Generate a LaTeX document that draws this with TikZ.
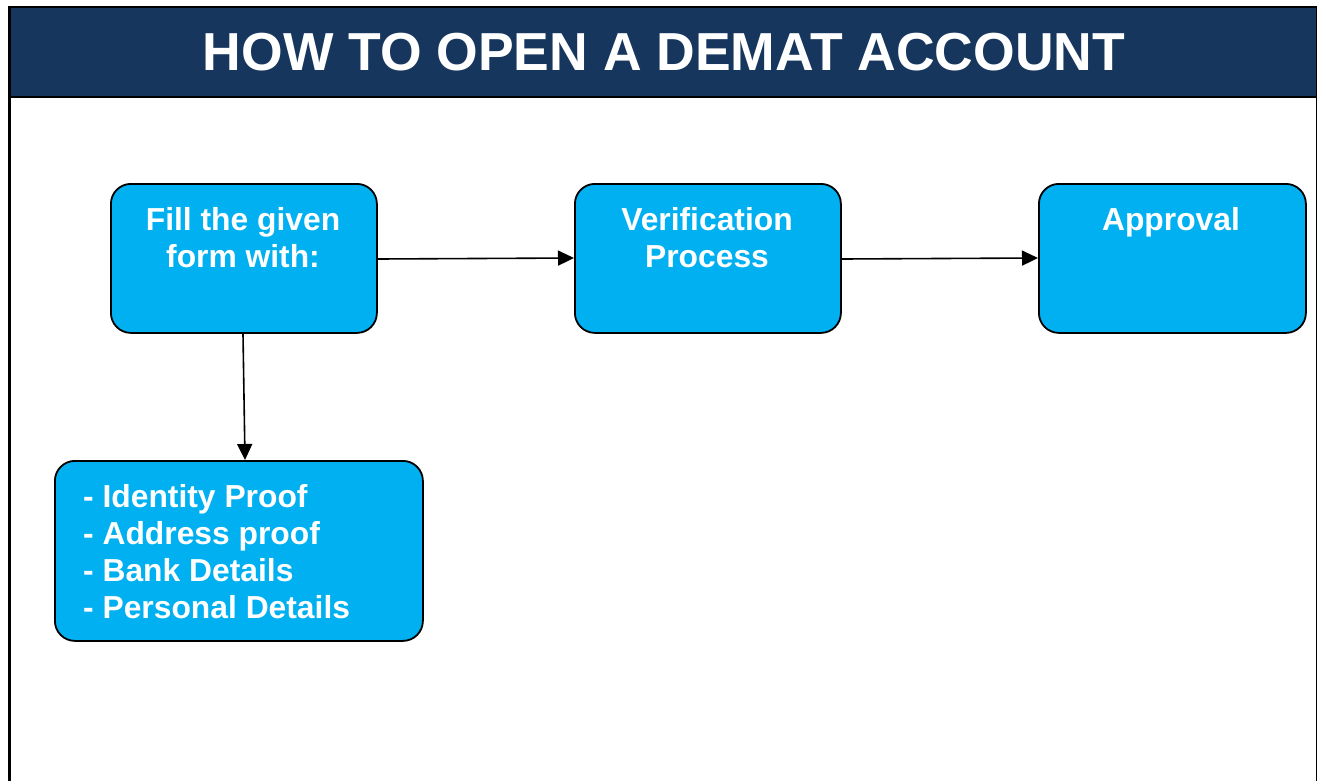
\documentclass[tikz,border=0pt]{standalone}
\usepackage{fontspec}
\setmainfont{Liberation Sans}
\usetikzlibrary{arrows.meta}
\definecolor{navy}{HTML}{17365D}
\definecolor{cyanbox}{HTML}{00B0F0}
\tikzset{
  stepbox/.style={draw=black, line width=1.8pt, fill=cyanbox, rounded corners=20pt, inner sep=0pt, anchor=north west},
  boxtext/.style={text=white, font=\bfseries\fontsize{31.8}{37}\selectfont, inner sep=0pt},
  conn/.style={draw=black, line width=1.6pt, -{Triangle[length=16pt,width=15pt]}}
}
\begin{document}
\begin{tikzpicture}[x=1pt,y=-1pt]
\useasboundingbox (0,0) rectangle (1318,780);
\fill[white] (0,0) rectangle (1318,780);
% header band
\fill[navy] (8,7) rectangle (1317,97);
\draw[line width=2pt] (8,97) -- (1317,97);
\draw[line width=2pt] (8,7) -- (1317,7);
% frame sides
\draw[line width=3pt] (9,6) -- (9,781);
\draw[line width=1.5pt] (1316.5,6) -- (1316.5,781);
\node[text=white, font=\bfseries\fontsize{53.5}{60}\selectfont, inner sep=0pt, anchor=base] (title) at (664,70) {HOW TO OPEN A DEMAT ACCOUNT};

% boxes
\node[stepbox, minimum width=266pt, minimum height=149pt] (fill) at (110,183) {};
\node[stepbox, minimum width=266pt, minimum height=149pt] (verif) at (574,183) {};
\node[stepbox, minimum width=267pt, minimum height=149pt] (appr) at (1038,183) {};
\node[stepbox, minimum width=368pt, minimum height=180pt] (docs) at (54,460) {};

% texts (anchored at the baseline of the last line)
\node[boxtext, align=center, anchor=base] (filltxt) at (243,267) {Fill the given\\form with:};
\node[boxtext, align=center, anchor=base] (veriftxt) at (707,267) {Verification\\Process};
\node[boxtext, anchor=base] (apprtxt) at (1171,230) {Approval};
\node[boxtext, align=left, anchor=base west] (docstxt) at (83,618) {- Identity Proof\\- Address proof\\- Bank Details\\- Personal Details};

% connectors
\draw[conn] (fill.east |- 0,259) -- (verif.west |- 0,258);
\draw[conn] (verif.east |- 0,259) -- (appr.west |- 0,258);
\draw[conn] (fill.south -| 243,0) -- (docs.north -| 245,0);
\end{tikzpicture}
\end{document}
